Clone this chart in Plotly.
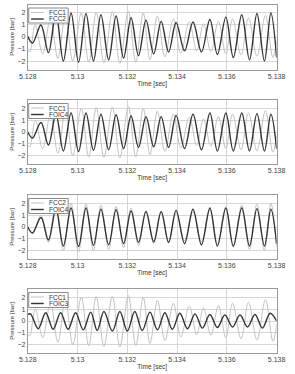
import plotly.graph_objects as go

# ---------------- data (extrema) ----------------
x_ticks = [5.128, 5.130, 5.132, 5.134, 5.136, 5.138]
x_tick_labels = ["5.128", "5.13", "5.132", "5.134", "5.136", "5.138"]
y_ticks = [-2, -1, 0, 1, 2]

t_fcc2 = [5.12800, 5.12819, 5.12853, 5.12883, 5.12913, 5.12943, 5.12974, 5.13004,
          5.13034, 5.13064, 5.13094, 5.13125, 5.13155, 5.13185, 5.13215, 5.13245,
          5.13275, 5.13306, 5.13336, 5.13366, 5.13396, 5.13430, 5.13464, 5.13498,
          5.13532, 5.13562, 5.13596, 5.13626, 5.13660, 5.13691, 5.13721, 5.13751,
          5.13777, 5.13800]
p_fcc2 = [0.05, -0.5, 1.0, -1.3, 1.95, -2.0, 2.0, -2.1,
          1.95, -2.0, 1.85, -1.9, 1.75, -1.75, 1.6, -1.55,
          1.4, -1.4, 1.3, -1.25, 1.2, -1.15, 1.25, -1.25,
          1.45, -1.45, 1.65, -1.7, 1.85, -1.9, 1.95, -2.0,
          2.0, -1.7]

t_foic4 = t_fcc2
p_foic4 = [0.0, -0.5, 0.8, -1.1, 1.5, -1.6, 1.6, -1.65,
           1.6, -1.55, 1.5, -1.5, 1.45, -1.4, 1.35, -1.3,
           1.3, -1.25, 1.3, -1.3, 1.4, -1.4, 1.5, -1.5,
           1.6, -1.6, 1.6, -1.6, 1.6, -1.6, 1.55, -1.6,
           1.5, -1.4]

t_fcc1 = [5.12800, 5.12808, 5.12830, 5.12860, 5.12891, 5.12921, 5.12951, 5.12981,
          5.13015, 5.13045, 5.13075, 5.13106, 5.13140, 5.13170, 5.13204, 5.13234,
          5.13264, 5.13291, 5.13321, 5.13351, 5.13385, 5.13415, 5.13449, 5.13479,
          5.13506, 5.13536, 5.13566, 5.13596, 5.13623, 5.13657, 5.13687, 5.13721,
          5.13755, 5.13785, 5.13800]
p_fcc1 = [-1.1, -1.25, 1.0, -1.4, 1.5, -1.8, 1.8, -2.0,
          2.0, -2.1, 2.05, -2.15, 2.1, -2.2, 2.15, -2.1,
          2.0, -1.9, 1.75, -1.65, 1.5, -1.35, 1.25, -1.15,
          1.1, -1.2, 1.3, -1.4, 1.5, -1.5, 1.6, -1.6,
          1.8, -1.7, -0.3]

t_foic3 = [5.12800, 5.12811, 5.12842, 5.12872, 5.12902, 5.12932, 5.12962, 5.12992,
           5.13023, 5.13053, 5.13079, 5.13106, 5.13140, 5.13170, 5.13200, 5.13230,
           5.13260, 5.13291, 5.13321, 5.13351, 5.13381, 5.13411, 5.13442, 5.13472,
           5.13502, 5.13532, 5.13562, 5.13592, 5.13623, 5.13653, 5.13683, 5.13713,
           5.13743, 5.13774, 5.13800]
p_foic3 = [0.55, 0.6, -0.65, 0.7, -0.7, 0.7, -0.7, 0.7,
           -0.75, 0.75, -0.8, 0.8, -0.85, 0.8, -0.85, 0.8,
           -0.8, 0.75, -0.75, 0.7, -0.7, 0.65, -0.65, 0.6,
           -0.6, 0.55, -0.55, 0.5, -0.5, 0.5, -0.5, 0.55,
           -0.6, 0.65, 0.0]

panels = [
    (("FCC1", t_fcc1, p_fcc1), ("FCC2", t_fcc2, p_fcc2)),
    (("FCC1", t_fcc1, p_fcc1), ("FOIC4", t_foic4, p_foic4)),
    (("FCC2", t_fcc2, p_fcc2), ("FOIC4", t_foic4, p_foic4)),
    (("FCC1", t_fcc1, p_fcc1), ("FOIC3", t_foic3, p_foic3)),
]

# ---------------- layout (pixel geometry) ----------------
W, H = 295, 374
X0, X1 = 20, 285
panel_px = [(4.5, 69.5), (100, 164), (195, 259), (289, 353)]

LIGHT = "#c2c2c2"
DARK = "#333333"
FONT = "Liberation Sans, Arial, sans-serif"

fig = go.Figure()
shapes = []
annotations = []
layout = {}

for i, ((n1, t1, v1), (n2, t2, v2)) in enumerate(panels):
    k = "" if i == 0 else str(i + 1)
    top, bot = panel_px[i]
    fig.add_trace(go.Scatter(x=t1, y=v1, mode="lines", name=n1,
                             line=dict(color=LIGHT, width=1, shape="spline", smoothing=1.0),
                             xaxis="x" + k, yaxis="y" + k, showlegend=False))
    fig.add_trace(go.Scatter(x=t2, y=v2, mode="lines", name=n2,
                             line=dict(color=DARK, width=1.4, shape="spline", smoothing=1.0),
                             xaxis="x" + k, yaxis="y" + k, showlegend=False))
    layout["xaxis" + k] = dict(
        domain=[X0 / W, X1 / W], anchor="y" + k, range=[5.128, 5.138],
        tickvals=x_ticks, ticktext=x_tick_labels,
        showline=True, mirror=True, linecolor="#9a9a9a", linewidth=1,
        showgrid=True, gridcolor="#d6d6d6", gridwidth=1, zeroline=False,
        ticks="", tickfont=dict(size=7, color="#444", family=FONT),
        title=dict(text="Time [sec]", font=dict(size=6.5, color="#333", family=FONT), standoff=2),
    )
    layout["yaxis" + k] = dict(
        domain=[1 - bot / H, 1 - top / H], anchor="x" + k, range=[-2.7, 2.7],
        tickvals=y_ticks, showline=True, mirror=True, linecolor="#9a9a9a", linewidth=1,
        showgrid=True, gridcolor="#d6d6d6", gridwidth=1, zeroline=False,
        ticks="", tickfont=dict(size=7, color="#444", family=FONT),
        title=dict(text="Pressure [bar]", font=dict(size=6, color="#333", family=FONT), standoff=2),
    )
    # manual legend box
    lt = top + 3.5
    lb = lt + 15
    shapes.append(dict(type="rect", xref="paper", yref="paper",
                       x0=21 / W, x1=63 / W, y0=1 - lb / H, y1=1 - lt / H,
                       line=dict(color="#8a8a8a", width=1), fillcolor="white", layer="above"))
    for j, (name, col, wid) in enumerate([(n1, LIGHT, 1), (n2, DARK, 1.4)]):
        yc = lt + 4.5 + j * 6.5
        shapes.append(dict(type="line", xref="paper", yref="paper",
                           x0=23.5 / W, x1=37 / W, y0=1 - yc / H, y1=1 - yc / H,
                           line=dict(color=col, width=wid), layer="above"))
        annotations.append(dict(xref="paper", yref="paper", x=40 / W, y=1 - yc / H,
                                xanchor="left", yanchor="middle", showarrow=False,
                                text=name, font=dict(size=6.5, color="#333", family=FONT)))

fig.update_layout(
    width=W, height=H, margin=dict(l=0, r=0, t=0, b=0),
    paper_bgcolor="white", plot_bgcolor="white",
    shapes=shapes, annotations=annotations, showlegend=False,
    font=dict(family=FONT),
    **layout,
)

fig.write_html("out.html")
